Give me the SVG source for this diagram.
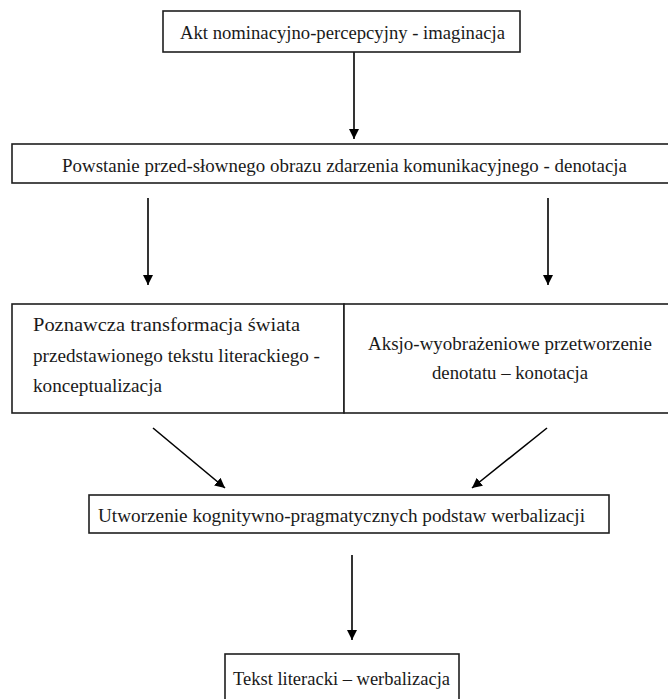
<svg xmlns="http://www.w3.org/2000/svg" width="668" height="699" viewBox="0 0 668 699">
  <defs>
    <marker id="arrow" viewBox="0 0 10 10" refX="10" refY="5" markerWidth="10" markerHeight="10" markerUnits="userSpaceOnUse" orient="auto">
      <path d="M0,0 L10,5 L0,10 Z" fill="#000"/>
    </marker>
    <style>
      .box { fill: #fff; stroke: #1e1e1e; stroke-width: 1.6; }
      .lbl { font-family: "Liberation Serif", "DejaVu Serif", serif; font-size: 19px; fill: #1a1a1a; }
      .conn { stroke: #000; stroke-width: 1.6; fill: none; marker-end: url(#arrow); }
    </style>
  </defs>
  <rect width="668" height="699" fill="#fff"/>

  <g id="connectors">
    <line class="conn" x1="354" y1="52" x2="354" y2="139"/>
    <line class="conn" x1="148" y1="198" x2="148" y2="285"/>
    <line class="conn" x1="548" y1="198" x2="548" y2="285"/>
    <line class="conn" x1="153" y1="428" x2="225" y2="488"/>
    <line class="conn" x1="547" y1="428" x2="472" y2="488"/>
    <line class="conn" x1="352" y1="555" x2="352" y2="640"/>
  </g>

  <g id="imaginacja">
    <rect class="box" x="163" y="11" width="357" height="41"/>
    <text class="lbl" x="180" y="39" textLength="325" lengthAdjust="spacingAndGlyphs">Akt nominacyjno-percepcyjny - imaginacja</text>
  </g>

  <g id="denotacja">
    <rect class="box" x="12" y="144" width="670" height="39"/>
    <text class="lbl" x="62" y="172" textLength="565" lengthAdjust="spacingAndGlyphs">Powstanie przed-słownego obrazu zdarzenia komunikacyjnego - denotacja</text>
  </g>

  <g id="konceptualizacja">
    <rect class="box" x="12" y="304" width="332" height="109"/>
    <text class="lbl" x="33" y="331" textLength="267" lengthAdjust="spacingAndGlyphs">Poznawcza transformacja świata</text>
    <text class="lbl" x="33" y="362" textLength="287" lengthAdjust="spacingAndGlyphs">przedstawionego tekstu literackiego -</text>
    <text class="lbl" x="33" y="392" textLength="129" lengthAdjust="spacingAndGlyphs">konceptualizacja</text>
  </g>

  <g id="konotacja">
    <rect class="box" x="344" y="304" width="338" height="109"/>
    <text class="lbl" x="368" y="350" textLength="284" lengthAdjust="spacingAndGlyphs">Aksjo-wyobrażeniowe przetworzenie</text>
    <text class="lbl" x="432" y="379" textLength="156" lengthAdjust="spacingAndGlyphs">denotatu – konotacja</text>
  </g>

  <g id="werbalizacja-podstawy">
    <rect class="box" x="89" y="495" width="520" height="38"/>
    <text class="lbl" x="98" y="522" textLength="487" lengthAdjust="spacingAndGlyphs">Utworzenie kognitywno-pragmatycznych podstaw werbalizacji</text>
  </g>

  <g id="werbalizacja">
    <rect class="box" x="225" y="654" width="234" height="60"/>
    <text class="lbl" x="233" y="685" textLength="217" lengthAdjust="spacingAndGlyphs">Tekst literacki – werbalizacja</text>
  </g>
</svg>
